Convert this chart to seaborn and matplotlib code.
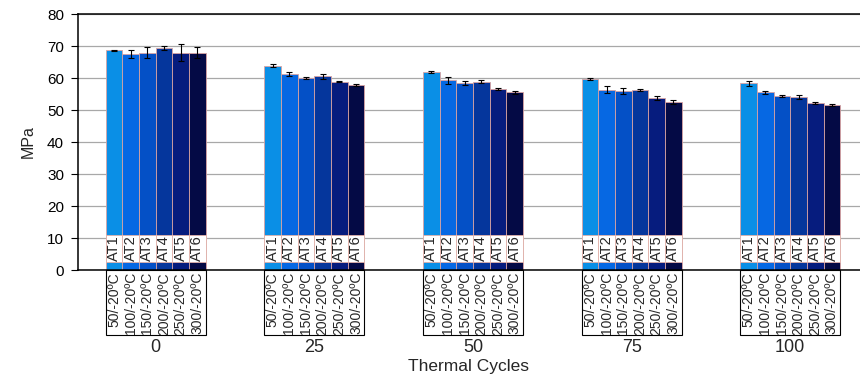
import numpy as np
import pandas as pd
import matplotlib
matplotlib.use("Agg")
import matplotlib.pyplot as plt
import matplotlib.transforms as mtransforms
from matplotlib.patches import Rectangle
import seaborn as sns

# ---- data ----
cycles = ["0", "25", "50", "75", "100"]
treatments = ["AT1", "AT2", "AT3", "AT4", "AT5", "AT6"]
temps = ["50/-20ºC", "100/-20ºC", "150/-20ºC", "200/-20ºC", "250/-20ºC", "300/-20ºC"]

at1 = [68.6, 63.9, 61.9, 59.7, 58.3]
at2 = [67.6, 61.3, 59.3, 56.4, 55.5]
at3 = [67.9, 60.1, 58.5, 55.9, 54.5]
at4 = [69.4, 60.5, 58.9, 56.2, 54.1]
at5 = [67.9, 58.9, 56.5, 53.8, 52.3]
at6 = [67.9, 57.9, 55.5, 52.5, 51.7]

err1 = [0.3, 0.4, 0.2, 0.2, 0.7]
err2 = [1.3, 0.6, 1.1, 1.0, 0.4]
err3 = [1.7, 0.3, 0.6, 1.0, 0.3]
err4 = [0.7, 0.9, 0.5, 0.3, 0.6]
err5 = [2.7, 0.3, 0.3, 0.7, 0.3]
err6 = [1.7, 0.3, 0.5, 0.5, 0.3]

colors = ["#0a8fe6", "#0668e3", "#0450c6", "#05369c", "#061c7e", "#040a45"]

means = [at1, at2, at3, at4, at5, at6]
errs = [err1, err2, err3, err4, err5, err6]

rows = []
for t, m in zip(treatments, means):
    for c, v in zip(cycles, m):
        rows.append({"cycle": c, "treatment": t, "MPa": v})
df = pd.DataFrame(rows)

sns.set_style("white")
plt.rcParams["font.family"] = ["Liberation Sans", "DejaVu Sans"]

fig = plt.figure(figsize=(8.6, 3.78), dpi=100)
ax = fig.add_axes([78 / 860, 108 / 378, 782 / 860, 256 / 378])

sns.barplot(data=df, x="cycle", y="MPa", hue="treatment", order=cycles,
            hue_order=treatments, palette=colors, saturation=1, width=0.63,
            errorbar=None, edgecolor="#d9a3a3", linewidth=0.6, legend=False,
            ax=ax, zorder=2)

ax.set_ylim(0, 80)
ax.set_xlim(-0.49, 4.44)
ax.set_yticks(range(0, 81, 10))
ax.yaxis.grid(True, color="#a8a8a8", lw=0.9)
ax.xaxis.grid(False)
ax.set_axisbelow(True)

for s in ["left", "top", "bottom"]:
    ax.spines[s].set_visible(True)
    ax.spines[s].set_color("black")
    ax.spines[s].set_linewidth(1.1)
ax.spines["right"].set_visible(False)

ax.tick_params(axis="y", direction="out", length=5, width=0.8, labelsize=11,
               left=True, colors="black", pad=5)
ax.tick_params(axis="x", length=0, labelsize=13, pad=50)
ax.set_ylabel("MPa", fontsize=11.5, labelpad=8)
ax.set_xlabel("Thermal Cycles", fontsize=12.5, labelpad=1.5)

trans = mtransforms.blended_transform_factory(ax.transData, ax.transAxes)

bar_conts = list(ax.containers)
group_edges = {}
for ti, cont in enumerate(bar_conts):
    xs = []
    hs = []
    for ci, bar in enumerate(cont.patches):
        x0 = bar.get_x()
        w = bar.get_width()
        xc = x0 + w / 2
        xs.append(xc)
        hs.append(bar.get_height())
        # white label box inside the bar
        ax.add_patch(Rectangle((x0, 2.6), w, 8.3, facecolor="white",
                               edgecolor="#e0b0a8", lw=0.6, zorder=3))
        ax.text(xc, 2.6 + 8.3 / 2, treatments[ti], rotation=90, ha="center",
                va="center", fontsize=10.5, zorder=4)
        # rotated temperature label below axis
        ax.text(xc, -0.008, temps[ti], transform=trans, rotation=90,
                ha="center", va="top", fontsize=10, clip_on=False)
        lo, hi = group_edges.get(ci, (np.inf, -np.inf))
        group_edges[ci] = (min(lo, x0), max(hi, x0 + w))
    ax.errorbar(xs, hs, yerr=errs[ti], fmt="none", ecolor="black",
                elinewidth=0.8, capsize=2.2, capthick=0.8, zorder=5)

for ci, (lo, hi) in group_edges.items():
    ax.add_patch(Rectangle((lo, 0), hi - lo, -65 / 256, transform=trans,
                           fill=False, edgecolor="black", lw=0.8,
                           clip_on=False))

fig.savefig("out.png", dpi=100)
